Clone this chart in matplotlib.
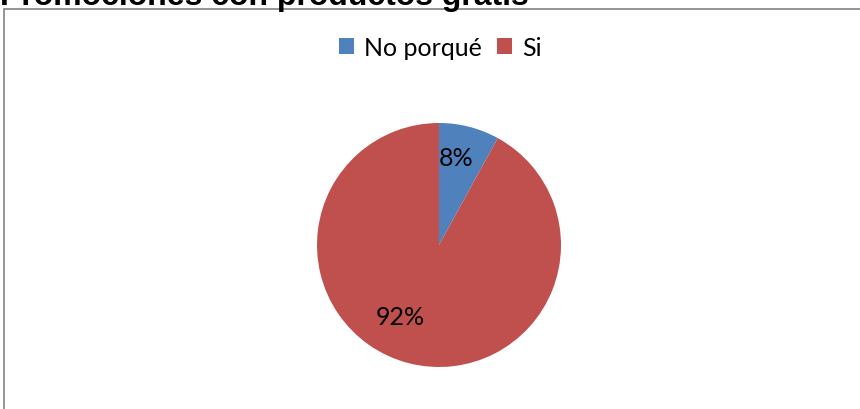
import matplotlib
matplotlib.use("Agg")
import matplotlib.pyplot as plt
from matplotlib.patches import Patch, Rectangle

# chart data
categories = ["No porqué", "Si"]
values = [8, 92]
colors = ["#4F81BD", "#C0504D"]
title = "Promociones con productos gratis"

fig = plt.figure(figsize=(8.6, 4.1), dpi=100)

# chart area border (extends past right and bottom edges like the crop)
fig.patches.append(Rectangle((4 / 860, -0.1), 1.0, 0.1 + (1 - 10 / 410),
                             transform=fig.transFigure, fill=False,
                             edgecolor="#8c8c8c", linewidth=1.3))

# title, partly cut off at the top (as in the source image)
fig.text(0.0, 1 - 5 / 410, title, fontsize=23, fontweight="bold",
         family=["Liberation Sans", "DejaVu Sans"], ha="left", va="baseline")

# pie axes: centre (439, 246) px, radius 122 px
ax = fig.add_axes([317 / 860, 42 / 410, 244 / 860, 244 / 410])
wedges, texts, autotexts = ax.pie(
    values, colors=colors, startangle=90, counterclock=False,
    autopct=lambda p: f"{p:.0f}%", pctdistance=0.72, radius=1,
    wedgeprops=dict(linewidth=0),
    textprops=dict(fontsize=18, family=["Lato", "DejaVu Sans"], color="black"))
ax.set_xlim(-1, 1)
ax.set_ylim(-1, 1)
ax.set_aspect("equal")
ax.axis("off")

# Excel-style label placement
autotexts[0].set_position((0.14, 0.72))
autotexts[1].set_position((-0.32, -0.59))

handles = [Patch(facecolor=c, edgecolor="none") for c in colors]
fig.legend(handles, categories, loc="center", bbox_to_anchor=(440 / 860, 1 - 48 / 410),
           ncol=2, frameon=False, borderpad=0, handlelength=0.6, handleheight=0.6,
           handletextpad=0.4, columnspacing=0.6,
           prop=dict(family=["Lato", "DejaVu Sans"], size=18))

fig.savefig("out.png", dpi=100)
